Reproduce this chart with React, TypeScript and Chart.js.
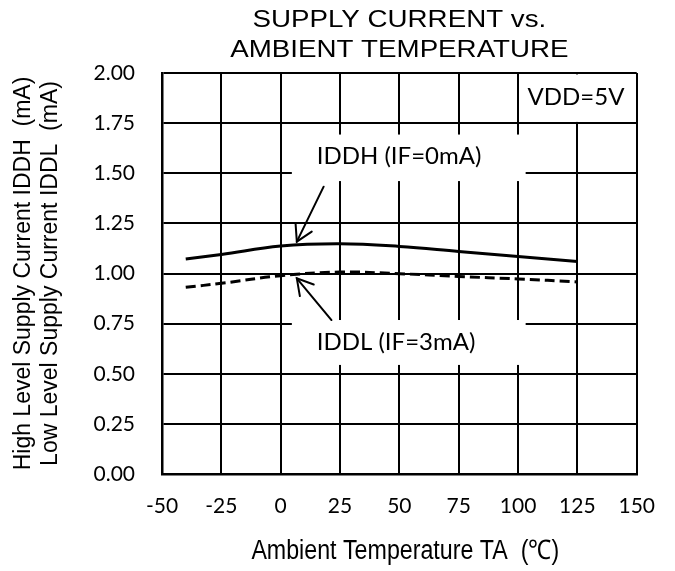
import React, { useEffect, useRef } from 'react';
import { Chart, registerables } from 'chart.js';

Chart.register(...registerables);

// ---- data ----
const temperatures = [-40, -25, 0, 25, 50, 75, 100, 125];
const iddhValues = [1.072, 1.095, 1.137, 1.148, 1.135, 1.11, 1.085, 1.06];
const iddlValues = [0.931, 0.951, 0.989, 1.007, 0.999, 0.985, 0.973, 0.958];

const xTickValues = [-50, -25, 0, 25, 50, 75, 100, 125, 150];
const yTickValues = [0, 0.25, 0.5, 0.75, 1.0, 1.25, 1.5, 1.75, 2.0];

const titleLines = ['SUPPLY CURRENT vs.', 'AMBIENT TEMPERATURE'];
const yTitleLines = ['High Level Supply Current IDDH  (mA)', 'Low Level Supply Current IDDL  (mA)'];
const xTitleText = 'Ambient Temperature TA  (\u2103)';
const iddhLabel = 'IDDH (IF=0mA)';
const iddlLabel = 'IDDL (IF=3mA)';
const vddLabel = 'VDD=5V';

// annotation geometry in data units
const whiteBoxes = [
  { x0: 100, x1: 150, y0: 1.75, y1: 2.0, inset: true },
  { x0: 4.7, x1: 103.2, y0: 1.461, y1: 1.693, inset: false },
  { x0: 4.7, x1: 103.2, y0: 0.544, y1: 0.768, inset: false },
];
const textNotes = [
  { text: vddLabel, x: 104, y: 1.88 },
  { text: iddhLabel, x: 15.2, y: 1.585 },
  { text: iddlLabel, x: 15.2, y: 0.658 },
];
const arrows = [
  { fromX: 18.1, fromY: 1.433, toX: 6.8, toY: 1.159 },
  { fromX: 21.4, fromY: 0.768, toX: 6.8, toY: 0.976 },
];

function stretchedText(ctx: CanvasRenderingContext2D, text: string, cx: number, cy: number, font: string, sx: number) {
  ctx.save();
  ctx.font = font;
  ctx.textAlign = 'center';
  ctx.textBaseline = 'middle';
  ctx.translate(cx, cy);
  ctx.scale(sx, 1);
  ctx.fillText(text, 0, 0);
  ctx.restore();
}

const annotationPlugin = {
  id: 'annotationPlugin',
  beforeDatasetsDraw(chart: any) {
    const { ctx, scales } = chart;
    const xs = scales.x;
    const ys = scales.y;
    ctx.save();
    ctx.fillStyle = '#ffffff';
    for (const b of whiteBoxes) {
      let l = xs.getPixelForValue(b.x0);
      let r = xs.getPixelForValue(b.x1);
      let t = ys.getPixelForValue(b.y1);
      let btm = ys.getPixelForValue(b.y0);
      if (b.inset) {
        l += 1.2;
        r -= 1.4;
        t += 1.4;
        btm -= 1.2;
      }
      ctx.fillRect(l, t, r - l, btm - t);
    }
    ctx.restore();
  },
  afterDatasetsDraw(chart: any) {
    const { ctx, scales, chartArea } = chart;
    const xs = scales.x;
    const ys = scales.y;
    ctx.save();
    ctx.fillStyle = '#000';
    ctx.font = '24px Lato, "Open Sans", sans-serif';
    ctx.textAlign = 'left';
    ctx.textBaseline = 'middle';
    for (const n of textNotes) {
      ctx.fillText(n.text, xs.getPixelForValue(n.x), ys.getPixelForValue(n.y));
    }
    ctx.strokeStyle = '#000';
    ctx.lineWidth = 2;
    ctx.lineCap = 'round';
    for (const a of arrows) {
      const x0 = xs.getPixelForValue(a.fromX);
      const y0 = ys.getPixelForValue(a.fromY);
      const x1 = xs.getPixelForValue(a.toX);
      const y1 = ys.getPixelForValue(a.toY);
      ctx.beginPath();
      ctx.moveTo(x0, y0);
      ctx.lineTo(x1, y1);
      ctx.stroke();
      const ang = Math.atan2(y0 - y1, x0 - x1);
      const len = 18;
      const spread = Math.PI / 6;
      ctx.beginPath();
      ctx.moveTo(x1 + len * Math.cos(ang - spread), y1 + len * Math.sin(ang - spread));
      ctx.lineTo(x1, y1);
      ctx.lineTo(x1 + len * Math.cos(ang + spread), y1 + len * Math.sin(ang + spread));
      ctx.stroke();
    }

    // chart title, centred over the plot area
    const cx = (chartArea.left + chartArea.right) / 2;
    const titleFont = '24px "Liberation Sans", Arial, sans-serif';
    stretchedText(ctx, titleLines[0], cx, 20, titleFont, 1.155);
    stretchedText(ctx, titleLines[1], cx, 50, titleFont, 1.155);

    // x axis title
    stretchedText(ctx, xTitleText, cx + 6, 552, '27px "Liberation Sans", Arial, sans-serif', 0.86);
    ctx.restore();
  },
};

export default function App() {
  const canvasRef = useRef<HTMLCanvasElement | null>(null);

  useEffect(() => {
    if (!canvasRef.current) return;
    const chart = new Chart(canvasRef.current, {
      type: 'line',
      data: {
        datasets: [
          {
            label: 'IDDH',
            data: temperatures.map((t, i) => ({ x: t, y: iddhValues[i] })),
            borderColor: '#000',
            borderWidth: 3,
            pointRadius: 0,
            tension: 0.4,
            fill: false,
          },
          {
            label: 'IDDL',
            data: temperatures.map((t, i) => ({ x: t, y: iddlValues[i] })),
            borderColor: '#000',
            borderWidth: 3,
            borderDash: [10, 5],
            pointRadius: 0,
            tension: 0.4,
            fill: false,
          },
        ],
      },
      options: {
        responsive: false,
        animation: false,
        devicePixelRatio: 1,
        layout: { padding: { left: 0, right: 34, top: 73, bottom: 0 } },
        plugins: {
          legend: { display: false },
          tooltip: { enabled: false },
          title: { display: false },
        },
        scales: {
          x: {
            type: 'linear',
            min: xTickValues[0],
            max: xTickValues[xTickValues.length - 1],
            afterBuildTicks: (scale: any) => {
              scale.ticks = xTickValues.map((v) => ({ value: v }));
            },
            afterFit: (scale: any) => {
              scale.height = 97;
            },
            ticks: {
              color: '#000',
              padding: 20,
              font: { family: 'Lato, "Open Sans", sans-serif', size: 21 },
              maxRotation: 0,
              callback: (v: any) => String(v),
            },
            grid: { color: '#000', lineWidth: 2, drawTicks: false },
            border: { color: '#000', width: 2.5 },
            title: { display: false },
          },
          y: {
            type: 'linear',
            min: yTickValues[0],
            max: yTickValues[yTickValues.length - 1],
            afterBuildTicks: (scale: any) => {
              scale.ticks = yTickValues.map((v) => ({ value: v }));
            },
            afterFit: (scale: any) => {
              scale.width = 162;
            },
            ticks: {
              color: '#000',
              padding: 27,
              font: { family: 'Lato, "Open Sans", sans-serif', size: 21 },
              callback: (v: any) => Number(v).toFixed(2),
            },
            grid: { color: '#000', lineWidth: 2, drawTicks: false },
            border: { color: '#000', width: 2.5 },
            title: {
              display: true,
              text: yTitleLines,
              color: '#000',
              font: { family: '"Liberation Sans", Arial, sans-serif', size: 23, lineHeight: 27 / 23 },
              padding: { top: 10, bottom: 0 },
            },
          },
        },
      },
      plugins: [annotationPlugin],
    } as any);
    return () => chart.destroy();
  }, []);

  return (
    <div style={{ position: 'absolute', left: 0, top: 0, width: 675, height: 571, background: '#fff' }}>
      <canvas ref={canvasRef} width={675} height={571} style={{ display: 'block' }} />
    </div>
  );
}
